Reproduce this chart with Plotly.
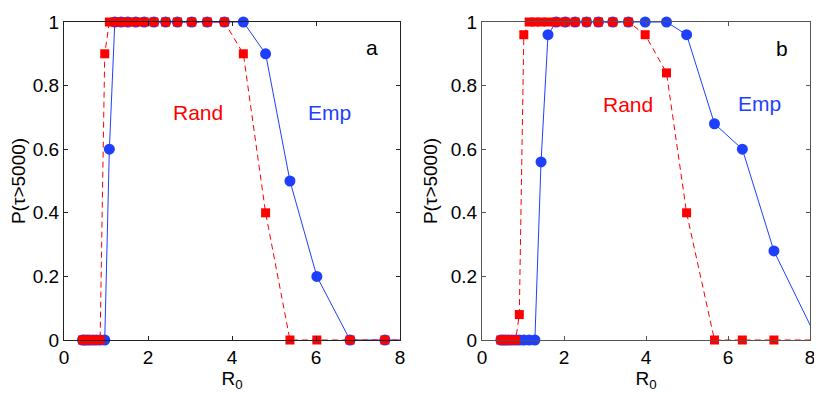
import plotly.graph_objects as go
from plotly.subplots import make_subplots

# panel a
r0_a = [0.44, 0.49, 0.55, 0.61, 0.69, 0.77, 0.86, 0.97, 1.08, 1.21, 1.36, 1.52, 1.71,
        1.91, 2.14, 2.42, 2.70, 3.04, 3.41, 3.82, 4.27, 4.80, 5.38, 6.02, 6.81, 7.64, 8.50]
emp_a = [0, 0, 0, 0, 0, 0, 0, 0, 0.6, 1, 1, 1, 1,
         1, 1, 1, 1, 1, 1, 1, 1, 0.9, 0.5, 0.2, 0, 0, 0]
rand_a = [0, 0, 0, 0, 0, 0, 0, 0.9, 1, 1, 1, 1, 1,
          1, 1, 1, 1, 1, 1, 1, 0.9, 0.4, 0, 0, 0, 0, 0]

# panel b
r0_b = [0.46, 0.52, 0.58, 0.65, 0.73, 0.82, 0.91, 1.02, 1.15, 1.29, 1.44, 1.61, 1.81,
        2.03, 2.27, 2.55, 2.84, 3.19, 3.57, 3.98, 4.50, 4.99, 5.67, 6.35, 7.12, 8.18]
emp_b = [0, 0, 0, 0, 0, 0, 0, 0, 0, 0, 0.56, 0.96, 1,
         1, 1, 1, 1, 1, 1, 1, 1, 0.96, 0.68, 0.6, 0.28, 0]
rand_b = [0, 0, 0, 0, 0, 0, 0.08, 0.96, 1, 1, 1, 1, 1,
          1, 1, 1, 1, 1, 1, 0.96, 0.84, 0.4, 0, 0, 0, 0]

BLUE = "#1f3fff"
RED = "#ff0000"
FONT = "Liberation Sans"
W, H = 822, 398
OFF = 8  # page body margin

fig = make_subplots(rows=1, cols=2)


def add_series(x, y, col, color, dash, symbol, size):
    # line through all points (clipped), markers only inside the x range
    fig.add_trace(go.Scatter(x=x, y=y, mode="lines",
                             line=dict(color=color, width=1, dash=dash),
                             showlegend=False, hoverinfo="skip"), row=1, col=col)
    xin = [a for a in x if a <= 8]
    yin = y[:len(xin)]
    fig.add_trace(go.Scatter(x=xin, y=yin, mode="markers", cliponaxis=False,
                             marker=dict(color=color, symbol=symbol, size=size,
                                         line=dict(width=0)),
                             showlegend=False), row=1, col=col)


add_series(r0_a, emp_a, 1, BLUE, "solid", "circle", 11)
add_series(r0_a, rand_a, 1, RED, "6px,4px", "square", 9)
add_series(r0_b, emp_b, 2, BLUE, "solid", "circle", 11)
add_series(r0_b, rand_b, 2, RED, "6px,4px", "square", 9)

axis_common = dict(
    range=[0, 8], tickvals=[0, 2, 4, 6, 8], ticks="inside", ticklen=4,
    showline=True, mirror="ticks", showgrid=False, zeroline=False, automargin=False,
    tickfont=dict(size=19, color="black", family=FONT),
)
yaxis_common = dict(
    range=[0, 1], tickvals=[0, 0.2, 0.4, 0.6, 0.8, 1], ticktext=["0", "0.2", "0.4", "0.6", "0.8", "1"],
    ticks="inside", ticklen=4, showline=True, mirror="ticks", showgrid=False, zeroline=False,
    automargin=False, tickfont=dict(size=19, color="black", family=FONT),
)

fig.update_xaxes(axis_common)
fig.update_yaxes(yaxis_common)
fig.update_xaxes(domain=[(64 - OFF) / W, (400 - OFF) / W], linecolor="#222", tickcolor="#222", row=1, col=1)
fig.update_xaxes(domain=[(482 - OFF) / W, (810 - OFF) / W], linecolor="#555", tickcolor="#555", row=1, col=2)
ydom = [(H - 340 + OFF) / H, (H - 22 + OFF) / H]
fig.update_yaxes(domain=ydom, linecolor="#222", tickcolor="#222", row=1, col=1)
fig.update_yaxes(domain=ydom, linecolor="#555", tickcolor="#555", row=1, col=2)

for c in (1, 2):
    fig.update_xaxes(title=dict(text="R<sub>0</sub>", font=dict(size=19, family=FONT), standoff=2), row=1, col=c)
    fig.update_yaxes(title=dict(text="P(τ>5000)", font=dict(size=19, family=FONT), standoff=8), row=1, col=c)

labels = [
    ("x", "y", 7.33, 0.92, "a", "black"),
    ("x", "y", 3.19, 0.714, "Rand", RED),
    ("x", "y", 6.33, 0.714, "Emp", BLUE),
    ("x2", "y2", 7.31, 0.918, "b", "black"),
    ("x2", "y2", 3.56, 0.74, "Rand", RED),
    ("x2", "y2", 6.78, 0.745, "Emp", BLUE),
]
for xr, yr, x, y, t, c in labels:
    fig.add_annotation(xref=xr, yref=yr, x=x, y=y, text=t, showarrow=False,
                       font=dict(size=21, color=c, family=FONT))

fig.update_layout(
    width=W, height=H,
    margin=dict(l=0, r=0, t=0, b=0),
    paper_bgcolor="white", plot_bgcolor="white",
    font=dict(family=FONT, color="black"),
)

fig.write_html("out.html")
